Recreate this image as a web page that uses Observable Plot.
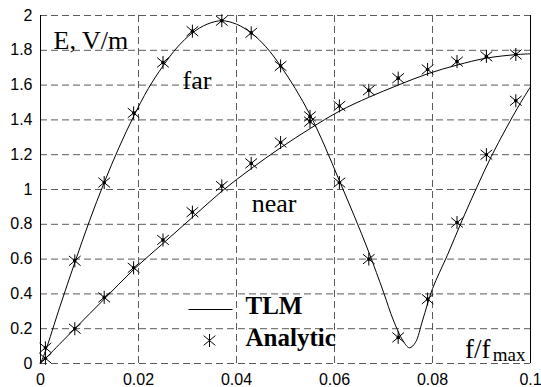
<!DOCTYPE html>
<html>
<head>
<meta charset="utf-8">
<script src="https://cdn.jsdelivr.net/npm/d3@7"></script>
<script src="https://cdn.jsdelivr.net/npm/@observablehq/plot@0.6"></script>
<style>
  html, body { margin: 0; padding: 0; background: #fff; }
  #chart { width: 541px; height: 387px; }
</style>
</head>
<body>
<div id="chart"></div>
<script>
// Analytic samples (asterisks)
const analyticX = [0.001, 0.007, 0.013, 0.019, 0.025, 0.031, 0.037, 0.043, 0.049, 0.055, 0.061, 0.067, 0.073, 0.079, 0.085, 0.091, 0.097];
const farAnalytic = [0.09, 0.59, 1.04, 1.44, 1.73, 1.91, 1.97, 1.90, 1.71, 1.42, 1.04, 0.60, 0.15, 0.37, 0.81, 1.20, 1.51];
const nearAnalytic = [0.03, 0.20, 0.38, 0.55, 0.71, 0.87, 1.02, 1.15, 1.27, 1.39, 1.48, 1.57, 1.64, 1.69, 1.735, 1.765, 1.776];

// TLM curves
const farLineX = [0, 0.001, 0.004, 0.007, 0.010, 0.013, 0.016, 0.019, 0.022, 0.025, 0.028, 0.031, 0.034, 0.037, 0.040, 0.043, 0.046, 0.049, 0.052, 0.055, 0.058, 0.061, 0.064, 0.067, 0.070, 0.072, 0.074, 0.0753, 0.0765, 0.078, 0.080, 0.083, 0.086, 0.089, 0.092, 0.095, 0.098, 0.1];
const farLineY = [0, 0.07, 0.33, 0.58, 0.82, 1.04, 1.24, 1.42, 1.58, 1.71, 1.82, 1.90, 1.95, 1.97, 1.95, 1.90, 1.82, 1.71, 1.58, 1.43, 1.25, 1.05, 0.85, 0.64, 0.41, 0.25, 0.13, 0.09, 0.12, 0.25, 0.43, 0.62, 0.82, 1.01, 1.19, 1.35, 1.50, 1.59];
const nearLineX = [0, 0.007, 0.013, 0.019, 0.025, 0.031, 0.037, 0.043, 0.049, 0.055, 0.061, 0.067, 0.073, 0.079, 0.085, 0.091, 0.097, 0.1];
const nearLineY = [0, 0.20, 0.37, 0.54, 0.69, 0.84, 0.99, 1.12, 1.24, 1.35, 1.45, 1.53, 1.60, 1.665, 1.715, 1.755, 1.775, 1.78];

// Ticks
const xTicks = [0, 0.02, 0.04, 0.06, 0.08, 0.1];
const yTicks = [0, 0.2, 0.4, 0.6, 0.8, 1, 1.2, 1.4, 1.6, 1.8, 2];

// Labels
const curveLabels = [
  {x: 0.029, y: 1.58, text: "far"},
  {x: 0.0431, y: 0.868, text: "near"}
];

const analytic = [
  ...analyticX.map((x, i) => ({x, y: farAnalytic[i]})),
  ...analyticX.map((x, i) => ({x, y: nearAnalytic[i]}))
];
const farLine = farLineX.map((x, i) => ({x, y: farLineY[i]}));
const nearLine = nearLineX.map((x, i) => ({x, y: nearLineY[i]}));

const asterisk = {
  draw(context, size) {
    const r = Math.sqrt(size / Math.PI);
    const dx = r * 0.9, dy = r * 0.75;
    context.moveTo(0, -r); context.lineTo(0, r);
    context.moveTo(-dx, -dy); context.lineTo(dx, dy);
    context.moveTo(-dx, dy); context.lineTo(dx, -dy);
  }
};
const hline = {
  draw(context, size) {
    const r = Math.sqrt(size / Math.PI);
    context.moveTo(-r, 0); context.lineTo(r, 0);
  }
};

const serif = "'Liberation Serif', 'Times New Roman', serif";
const sans = "'Liberation Sans', Arial, sans-serif";
const gridColor = "#5a5a5a";
const dash = "7,4";

const chart = Plot.plot({
  width: 541,
  height: 387,
  marginLeft: 40,
  marginRight: 11,
  marginTop: 15,
  marginBottom: 24,
  style: {fontFamily: sans, fontSize: "16px", color: "#000", background: "#fff"},
  x: {domain: [0, 0.1]},
  y: {domain: [0, 2]},
  marks: [
    Plot.gridX(xTicks.slice(1, -1), {stroke: gridColor, strokeOpacity: 1, strokeDasharray: dash}),
    Plot.gridY(yTicks, {stroke: gridColor, strokeOpacity: 1, strokeDasharray: dash}),
    Plot.ruleX([0, 0.1], {stroke: "#000", strokeWidth: 1}),
    Plot.axisX(xTicks, {tickSize: 0, tickPadding: 10, tickFormat: d => String(+d.toFixed(2)), label: null, fontSize: 16}),
    Plot.axisY(yTicks, {tickSize: 0, tickPadding: 8, tickFormat: d => String(+d.toFixed(1)), label: null, fontSize: 16}),
    Plot.line(farLine, {x: "x", y: "y", stroke: "#000", strokeWidth: 1, curve: "catmull-rom"}),
    Plot.line(nearLine, {x: "x", y: "y", stroke: "#000", strokeWidth: 1, curve: "catmull-rom"}),
    Plot.dot(analytic, {x: "x", y: "y", symbol: asterisk, r: 6.5, stroke: "#000", strokeWidth: 1}),
    Plot.dot(analytic, {x: "x", y: "y", r: 1.8, fill: "#000", stroke: null}),
    Plot.text(curveLabels, {x: "x", y: "y", text: "text", textAnchor: "start", lineAnchor: "bottom", fontFamily: serif, fontSize: 26}),
    Plot.text(["E, V/m"], {frameAnchor: "top-left", textAnchor: "start", lineAnchor: "bottom", dx: 13, dy: 33, fontFamily: serif, fontSize: 26}),
    Plot.text(["f/f"], {frameAnchor: "bottom-right", textAnchor: "end", lineAnchor: "bottom", dx: -40, dy: -6, fontFamily: serif, fontSize: 27}),
    Plot.text(["max"], {frameAnchor: "bottom-right", textAnchor: "end", lineAnchor: "bottom", dx: -5, dy: -3, fontFamily: serif, fontSize: 19}),
    // Legend
    Plot.dot([0], {frameAnchor: "bottom-left", dx: 170, dy: -54, symbol: hline, r: 22, stroke: "#000", strokeWidth: 1.2}),
    Plot.text(["TLM"], {frameAnchor: "bottom-left", textAnchor: "start", lineAnchor: "bottom", dx: 205, dy: -50, fontFamily: serif, fontWeight: "bold", fontSize: 25}),
    Plot.dot([0], {frameAnchor: "bottom-left", dx: 169, dy: -23, symbol: asterisk, r: 6.5, stroke: "#000", strokeWidth: 1}),
    Plot.text(["Analytic"], {frameAnchor: "bottom-left", textAnchor: "start", lineAnchor: "bottom", dx: 205, dy: -18, fontFamily: serif, fontWeight: "bold", fontSize: 25})
  ]
});
document.getElementById("chart").append(chart);
</script>
</body>
</html>
